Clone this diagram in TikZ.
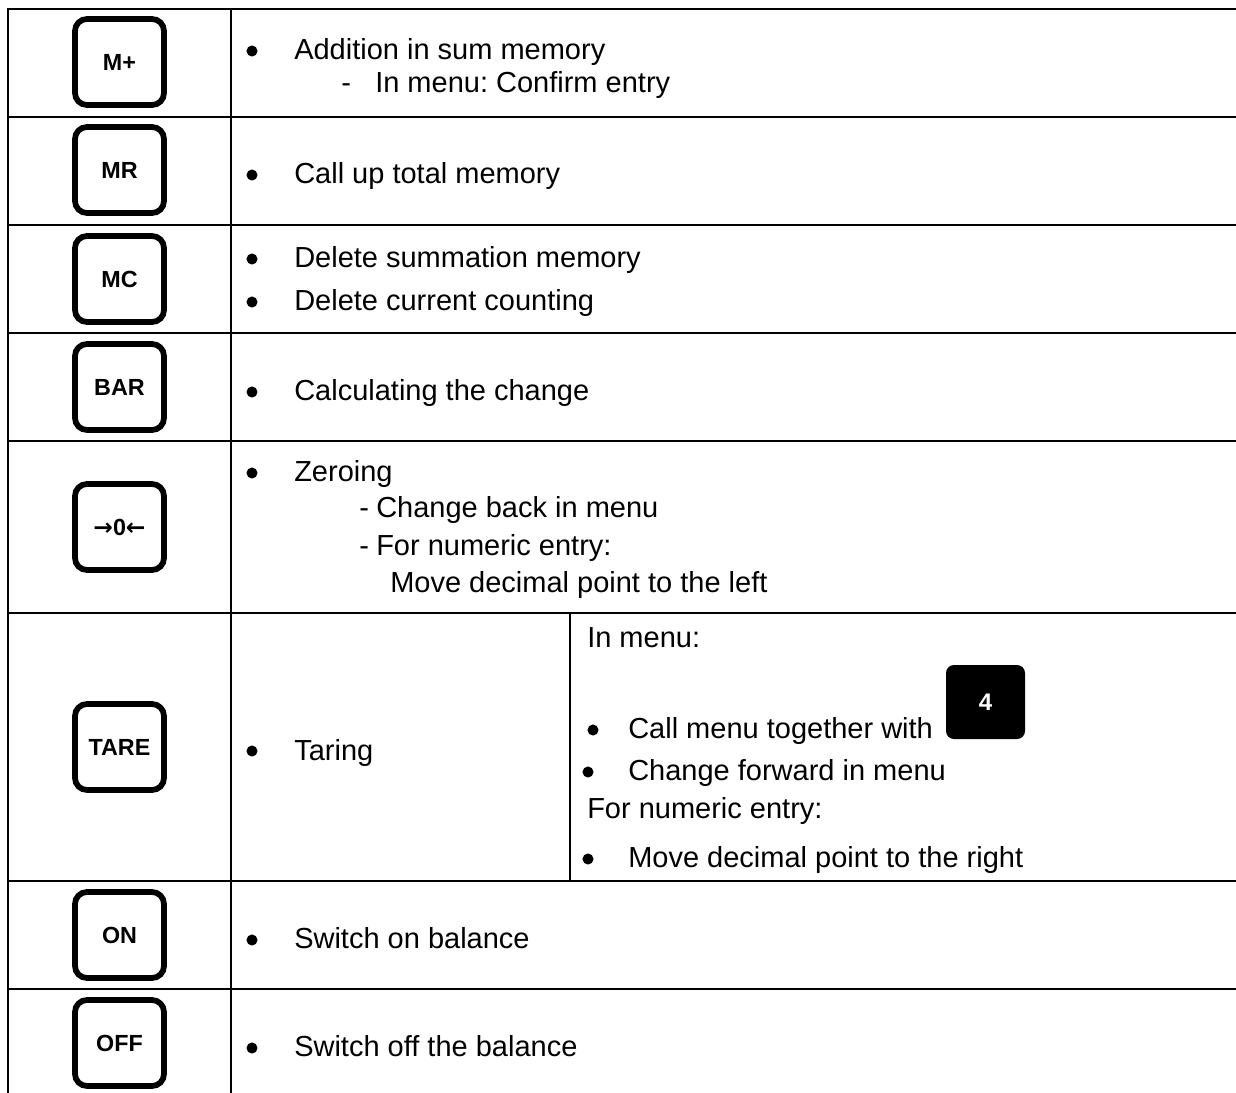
\documentclass[tikz,border=0pt]{standalone}
\usepackage{fontspec}
\setmainfont{Liberation Sans}
\newfontfamily\arrowfont{DejaVu Sans}
\frenchspacing
\begin{document}
\begin{tikzpicture}[x=0.75pt,y=-0.75pt,
  rule/.style={line width=1.9pt},
  keybox/.style={draw, line width=4.3pt, rounded corners=9pt, minimum width=66.75pt, minimum height=64.5pt, inner sep=0pt, font=\bfseries\fontsize{17.5}{20}\selectfont},
  blackkey/.style={fill=black, rounded corners=6pt, minimum width=59.25pt, minimum height=55.5pt, inner sep=0pt, text=white, font=\bfseries\fontsize{18}{21}\selectfont},
  txt/.style={anchor=base west, inner sep=0pt, font=\fontsize{21.75}{26}\selectfont},
  bul/.style={circle, fill=black, inner sep=0pt, minimum size=8.3pt}]
\useasboundingbox (0,0) rectangle (1236,1093);
% grid
\foreach \yy in {9,117,225,333,441,613,881,989}
  \draw[rule] (8,\yy) -- (1236,\yy);
\draw[rule] (8,8) -- (8,1093);
\draw[rule] (231,8) -- (231,1093);
\draw[rule] (570,613) -- (570,881);
% keys
\node[keybox] (kmp) at (119.5,62) {M+};
\node[keybox] (kmr) at (119.5,170) {MR};
\node[keybox] (kmc) at (119.5,279) {MC};
\node[keybox] (kbar) at (119.5,387) {BAR};
\node[keybox] (kzero) at (119.5,527) {{\arrowfont\bfseries →}0{\arrowfont\bfseries ←}};
\node[keybox] (ktare) at (119.5,747) {TARE};
\node[keybox] (kon) at (119.5,935) {ON};
\node[keybox] (koff) at (119.5,1043) {OFF};
% row 1
\node[bul] (b1) at (252,51) {};
\node[txt] (t1) at (294,59) {Addition in sum memory};
\node[txt] (d1) at (341,92) {-};
\node[txt] (t1b) at (375,92) {In menu: Confirm entry};
% row 2
\node[bul] (b2) at (252,175) {};
\node[txt] (t2) at (294,183) {Call up total memory};
% row 3
\node[bul] (b3a) at (252,259) {};
\node[txt] (t3a) at (294,267) {Delete summation memory};
\node[bul] (b3b) at (252,302) {};
\node[txt] (t3b) at (294,310) {Delete current counting};
% row 4
\node[bul] (b4) at (252,392) {};
\node[txt] (t4) at (294,400) {Calculating the change};
% row 5
\node[bul] (b5) at (252,473) {};
\node[txt] (t5) at (294,481) {Zeroing};
\node[txt] (d5a) at (359,517) {-};
\node[txt] (t5a) at (376,517) {Change back in menu};
\node[txt] (d5b) at (359,555) {-};
\node[txt] (t5b) at (376,555) {For numeric entry:};
\node[txt] (t5c) at (390,592) {Move decimal point to the left};
% row 6
\node[bul] (b6) at (252,751) {};
\node[txt] (t6) at (294,760) {Taring};
\node[txt] (t6a) at (587,647) {In menu:};
\node[bul] (b6b) at (593,730) {};
\node[txt] (t6b) at (628,738) {Call menu together with};
\node[blackkey] (k4) at (985.5,702) {4};
\node[bul] (b6c) at (588,772) {};
\node[txt] (t6c) at (628,780) {Change forward in menu};
\node[txt] (t6d) at (587,818) {For numeric entry:};
\node[bul] (b6e) at (588,859) {};
\node[txt] (t6e) at (628,867) {Move decimal point to the right};
% row 7
\node[bul] (b7) at (252,940) {};
\node[txt] (t7) at (294,948) {Switch on balance};
% row 8
\node[bul] (b8) at (252,1048) {};
\node[txt] (t8) at (294,1056) {Switch off the balance};
\end{tikzpicture}
\end{document}
